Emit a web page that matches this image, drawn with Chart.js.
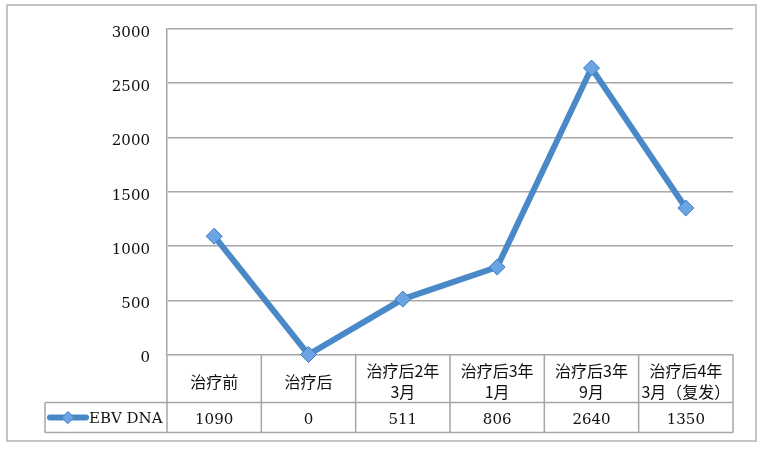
<!DOCTYPE html>
<html>
<head>
<meta charset="utf-8">
<script src="https://cdn.jsdelivr.net/npm/chart.js@4"></script>
<style>
  html, body { margin: 0; padding: 0; background: #fff; }
  #wrap { width: 766px; height: 453px; position: relative; }
</style>
</head>
<body>
<div id="wrap"><canvas id="myChart"></canvas></div>
<script>
const categories = [['治疗前'], ['治疗后'], ['治疗后2年', '3月'], ['治疗后3年', '1月'], ['治疗后3年', '9月'], ['治疗后4年', '3月（复发）']];
const seriesName = 'EBV DNA';
const ebvDna = [1090, 0, 511, 806, 2640, 1350];
const yMin = 0, yMax = 3000, yStep = 500;

const lineColor = '#4a89c8';
const gridColor = '#a6a6a6';
const numFont = '15px "DejaVu Serif"';
const cjkFont = '16px "Noto Sans CJK SC"';

// grey frame round the whole chart
const framePlugin = {
    id: 'frame',
    beforeDraw(chart) {
        const ctx = chart.ctx;
        ctx.save();
        ctx.fillStyle = '#fff';
        ctx.fillRect(0, 0, chart.width, chart.height);
        ctx.strokeStyle = '#b3b3b3';
        ctx.lineWidth = 1.5;
        ctx.strokeRect(7, 5, 749, 436);
        ctx.restore();
    }
};

// data table under the plot (category row + value row)
const tablePlugin = {
    id: 'dataTable',
    beforeDatasetsDraw(chart) {
        const { ctx, chartArea: a, scales: { x } } = chart;
        const top = a.bottom, mid = top + 48, bot = mid + 30;
        const half = (a.right - a.left) / categories.length / 2;
        const keyLeft = 45;
        ctx.save();
        ctx.strokeStyle = gridColor;
        ctx.lineWidth = 1.5;
        ctx.beginPath();
        categories.forEach((c, i) => {
            const px = x.getPixelForValue(i);
            ctx.moveTo(px - half, top); ctx.lineTo(px - half, bot);
            if (i === categories.length - 1) { ctx.moveTo(px + half, top); ctx.lineTo(px + half, bot); }
        });
        ctx.moveTo(keyLeft, mid); ctx.lineTo(a.right, mid);
        ctx.moveTo(keyLeft, bot); ctx.lineTo(a.right, bot);
        ctx.moveTo(keyLeft, mid); ctx.lineTo(keyLeft, bot);
        ctx.stroke();

        ctx.fillStyle = '#111';
        ctx.textAlign = 'center';
        ctx.textBaseline = 'middle';
        categories.forEach((lines, i) => {
            const px = x.getPixelForValue(i);
            ctx.font = cjkFont;
            const cy = (top + mid) / 2 + 3;
            lines.forEach((t, j) => {
                ctx.fillText(t, px, cy + (j - (lines.length - 1) / 2) * 21.5);
            });
            ctx.font = numFont;
            ctx.fillText(String(ebvDna[i]), px, (mid + bot) / 2 + 3);
        });

        // legend key in the first cell
        const ky = (mid + bot) / 2;
        ctx.strokeStyle = lineColor;
        ctx.lineWidth = 6;
        ctx.lineCap = 'round';
        ctx.beginPath();
        ctx.moveTo(50, ky); ctx.lineTo(86, ky);
        ctx.stroke();
        ctx.fillStyle = '#6aa4e2';
        ctx.strokeStyle = '#3f7fc2';
        ctx.lineWidth = 1;
        Chart.helpers.drawPoint(ctx, { pointStyle: 'rectRot', radius: 6, rotation: 0, borderWidth: 1 }, 68, ky);
        ctx.fillStyle = '#111';
        ctx.font = numFont;
        ctx.textAlign = 'left';
        ctx.fillText(seriesName, 89, ky + 2);
        ctx.restore();
    }
};

const ctx = document.getElementById('myChart').getContext('2d');

new Chart(ctx, {
    type: 'line',
    data: {
        labels: categories,
        datasets: [{
            label: seriesName,
            data: ebvDna,
            borderColor: lineColor,
            borderWidth: 6,
            pointStyle: 'rectRot',
            pointRadius: 8,
            pointBackgroundColor: '#6aa4e2',
            pointBorderColor: '#3f7fc2',
            pointBorderWidth: 1,
            tension: 0,
            clip: false
        }]
    },
    options: {
        responsive: true,
        maintainAspectRatio: false,
        animation: false,
        layout: { padding: { top: 29, right: 33, left: 0, bottom: 0 } },
        plugins: {
            legend: { display: false },
            tooltip: { enabled: false }
        },
        scales: {
            x: {
                offset: true,
                grid: { display: false },
                border: { display: false },
                ticks: { display: false },
                afterFit: s => { s.height = 98.5; }
            },
            y: {
                min: yMin,
                max: yMax,
                ticks: {
                    stepSize: yStep,
                    color: '#111',
                    font: { family: 'DejaVu Serif', size: 15 },
                    padding: 17,
                    labelOffset: 4,
                    callback: v => String(v)
                },
                grid: { color: gridColor, lineWidth: 1.5, drawTicks: false },
                border: { color: gridColor, width: 1.5 },
                afterFit: s => { s.width = 167; }
            }
        }
    },
    plugins: [framePlugin, tablePlugin]
});
</script>
</body>
</html>
